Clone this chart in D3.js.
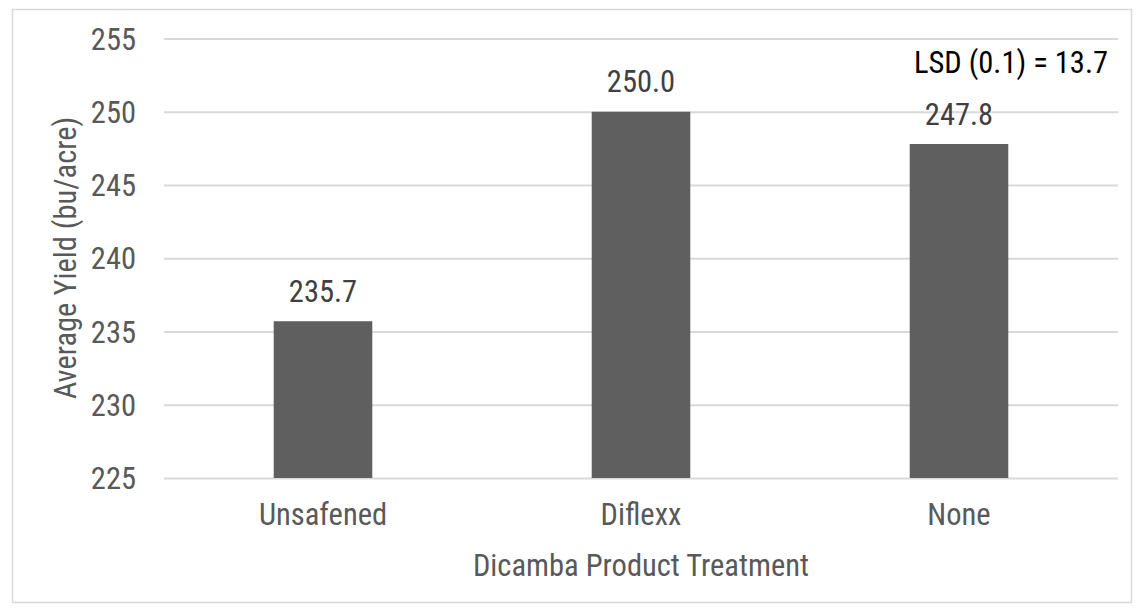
<!DOCTYPE html>
<html><head><meta charset="utf-8">
<script src="https://cdn.jsdelivr.net/npm/d3@7"></script>
<style>body{margin:0;background:#fff}svg{display:block}text{font-family:"Liberation Sans Narrow","Roboto Condensed","Liberation Sans",sans-serif}</style>
</head><body><svg id="c" width="1143" height="612"></svg>
<script>
const categories = ["Unsafened", "Diflexx", "None"];
const values = [235.7, 250.0, 247.8];
const valueLabels = ["235.7", "250.0", "247.8"];
const yTicks = [225, 230, 235, 240, 245, 250, 255];
const yTitle = "Average Yield (bu/acre)";
const xTitle = "Dicamba Product Treatment";
const note = "LSD (0.1) = 13.7";

const svg = d3.select("#c");
svg.append("rect").attr("x",12.5).attr("y",9.5).attr("width",1119).attr("height",593)
  .attr("fill","#fff").attr("stroke","#d9d9d9").attr("stroke-width",1.5);

const L=164, R=1118, T=38.5, B=478;
const x = d3.scaleBand().domain(categories).range([L,R]).padding(0);
const y = d3.scaleLinear().domain([225,255]).range([B,T]);
const bw = x.bandwidth()*0.31;
const fs = 30.5;

const gy = svg.append("g").attr("transform",`translate(${L},0)`)
  .call(d3.axisLeft(y).tickValues(yTicks).tickSize(-(R-L)).tickPadding(28).tickFormat(d3.format("d")));
gy.select(".domain").remove();
gy.selectAll(".tick line").attr("stroke","#d9d9d9").attr("stroke-width",2);
gy.selectAll(".tick text").attr("fill","#595959").style("font-size",fs+"px").attr("dy","0.35em");

svg.selectAll("rect.bar").data(values).enter().append("rect").attr("class","bar")
  .attr("x",(d,i)=>x(categories[i])+x.bandwidth()/2-bw/2)
  .attr("width",bw)
  .attr("y",d=>y(d))
  .attr("height",d=>B-y(d))
  .attr("fill","#5f5f5f");

svg.selectAll("text.val").data(values).enter().append("text").attr("class","val")
  .attr("x",(d,i)=>x(categories[i])+x.bandwidth()/2)
  .attr("y",d=>y(d)-30)
  .attr("text-anchor","middle").attr("dy","0.35em")
  .attr("fill","#404040").style("font-size",fs+"px")
  .text((d,i)=>valueLabels[i]);

const gx = svg.append("g").attr("transform",`translate(0,${B})`)
  .call(d3.axisBottom(x).tickSize(0).tickPadding(25));
gx.select(".domain").remove();
gx.selectAll(".tick text").attr("fill","#595959").style("font-size",fs+"px").attr("dy","0.71em");

svg.append("text").attr("transform","translate(65,258) rotate(-90)")
  .attr("text-anchor","middle").attr("dy","0.35em").attr("fill","#595959").style("font-size",fs+"px").text(yTitle);
svg.append("text").attr("x",641).attr("y",565).attr("text-anchor","middle").attr("dy","0.35em")
  .attr("fill","#595959").style("font-size",fs+"px").text(xTitle);
svg.append("text").attr("x",1108).attr("y",62).attr("text-anchor","end").attr("dy","0.35em")
  .attr("fill","#000").style("font-size",fs+"px").text(note);
</script></body></html>
